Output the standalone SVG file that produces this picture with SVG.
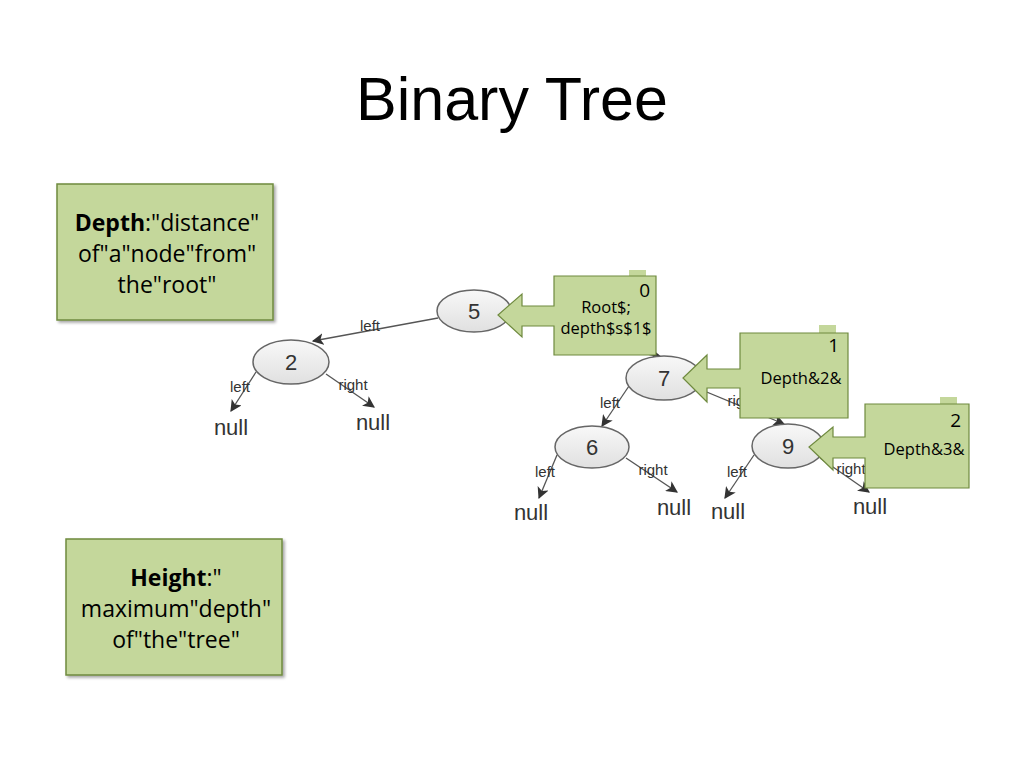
<svg xmlns="http://www.w3.org/2000/svg" width="1024" height="768" viewBox="0 0 1024 768">
<defs>
<linearGradient id="ng" x1="0" y1="0" x2="0" y2="1">
<stop offset="0" stop-color="#f8f8f8"/><stop offset="1" stop-color="#e0e0e0"/>
</linearGradient>
<marker id="ah" viewBox="0 0 10 10" refX="9" refY="5" markerWidth="9" markerHeight="9" orient="auto-start-reverse" markerUnits="strokeWidth">
<path d="M0,0 L10,5 L0,10 L2.5,5 z" fill="#333"/>
</marker>
<filter id="sh" x="-10%" y="-10%" width="130%" height="130%">
<feDropShadow dx="2" dy="2" stdDeviation="1.5" flood-color="#000" flood-opacity="0.35"/>
</filter>
</defs>
<style>
.title{font-family:"Liberation Sans",Arial,sans-serif;font-size:61px;fill:#000}
.box{fill:#c4d79b;stroke:#6f8a3f;stroke-width:1.5}
.bt{font-family:"Open Sans","Liberation Sans",sans-serif;font-size:23px;fill:#000;text-anchor:middle}
.node{fill:url(#ng);stroke:#666;stroke-width:1.5}
.nt{font-family:"Liberation Sans",Arial,sans-serif;font-size:22px;fill:#333;text-anchor:middle}
.el{stroke:#555;stroke-width:1.3;fill:none;marker-end:url(#ah)}
.lt{font-family:"Liberation Sans",Arial,sans-serif;font-size:15px;fill:#333;text-anchor:middle}
.null{font-family:"Liberation Sans",Arial,sans-serif;font-size:22px;fill:#333;text-anchor:middle}
.co{fill:#c4d79b;stroke:#6f8a3f;stroke-width:1.2}
.tab{fill:#c4d79b}
.ct{font-family:"Open Sans","Liberation Sans",sans-serif;font-size:16.5px;fill:#000;text-anchor:middle}
.cn{font-family:"Open Sans","Liberation Sans",sans-serif;font-size:19px;fill:#000;text-anchor:end}
</style>
<rect width="1024" height="768" fill="#fff"/>
<text class="title" x="512" y="120" text-anchor="middle">Binary Tree</text>

<g id="depth-box">
<rect class="box" x="57" y="184" width="216" height="136" filter="url(#sh)"/>
<text class="bt" x="167" y="231"><tspan font-weight="bold">Depth</tspan>:"distance"</text>
<text class="bt" x="167" y="262">of"a"node"from"</text>
<text class="bt" x="167" y="293">the"root"</text>
</g>

<g id="height-box">
<rect class="box" x="66" y="539" width="216" height="136" filter="url(#sh)"/>
<text class="bt" x="176" y="586"><tspan font-weight="bold">Height</tspan>:"</text>
<text class="bt" x="176" y="617">maximum"depth"</text>
<text class="bt" x="176" y="648">of"the"tree"</text>
</g>

<g id="connectors">
<line class="el" x1="438" y1="318" x2="313" y2="341"/>
<line class="el" x1="560" y1="335" x2="661" y2="357"/>
<line class="el" x1="256" y1="372" x2="231" y2="411"/>
<line class="el" x1="326" y1="374" x2="374" y2="407"/>
<line class="el" x1="629" y1="386" x2="602" y2="426"/>
<line class="el" x1="697" y1="388" x2="784" y2="424"/>
<line class="el" x1="557" y1="455" x2="539" y2="498"/>
<line class="el" x1="626" y1="458" x2="677" y2="492"/>
<line class="el" x1="754" y1="455" x2="725" y2="498"/>
<line class="el" x1="820" y1="458" x2="869" y2="492"/>
<text class="lt" x="370" y="331">left</text>
<text class="lt" x="240" y="392">left</text>
<text class="lt" x="353" y="390">right</text>
<text class="lt" x="610" y="408">left</text>
<text class="lt" x="742" y="406">right</text>
<text class="lt" x="545" y="477">left</text>
<text class="lt" x="653" y="475">right</text>
<text class="lt" x="737" y="477">left</text>
<text class="lt" x="851" y="474">right</text>
</g>

<g id="node-5"><ellipse class="node" cx="474" cy="311" rx="37" ry="21"/><text class="nt" x="474" y="319">5</text></g>
<g id="node-2"><ellipse class="node" cx="291" cy="362" rx="38" ry="22"/><text class="nt" x="291" y="370">2</text></g>
<g id="node-7"><ellipse class="node" cx="664" cy="378" rx="38" ry="22"/><text class="nt" x="664" y="386">7</text></g>
<g id="node-6"><ellipse class="node" cx="592" cy="447" rx="37" ry="21"/><text class="nt" x="592" y="455">6</text></g>
<g id="node-9"><ellipse class="node" cx="788" cy="446" rx="36" ry="22"/><text class="nt" x="788" y="454">9</text></g>

<g id="null-2l"><text class="null" x="231" y="435">null</text></g>
<g id="null-2r"><text class="null" x="373" y="430">null</text></g>
<g id="null-6l"><text class="null" x="531" y="520">null</text></g>
<g id="null-6r"><text class="null" x="674" y="515">null</text></g>
<g id="null-9l"><text class="null" x="728" y="519">null</text></g>
<g id="null-9r"><text class="null" x="870" y="514">null</text></g>

<g id="callout-0">
<rect class="tab" x="629" y="270" width="17" height="9"/>
<path class="co" d="M554,276 H656 V355 H554 V326 H522 V337 L498,315 L522,294 V306 H554 Z"/>
<text class="cn" x="650" y="297">0</text>
<text class="ct" x="606" y="313">Root$;</text>
<text class="ct" x="606" y="334">depth$s$1$</text>
</g>

<g id="callout-1">
<rect class="tab" x="819" y="325" width="17" height="9"/>
<path class="co" d="M740,333 H848 V418 H740 V388 H707 V402 L683,378 L707,355 V369 H740 Z"/>
<text class="cn" x="839" y="352">1</text>
<text class="ct" x="801" y="384">Depth&amp;2&amp;</text>
</g>

<g id="callout-2">
<rect class="tab" x="940" y="397" width="17" height="9"/>
<path class="co" d="M865,404 H969 V488 H865 V458 H833 V470 L809,447 L833,427 V437 H865 Z"/>
<text class="cn" x="961" y="427">2</text>
<text class="ct" x="924" y="455">Depth&amp;3&amp;</text>
</g>
</svg>
